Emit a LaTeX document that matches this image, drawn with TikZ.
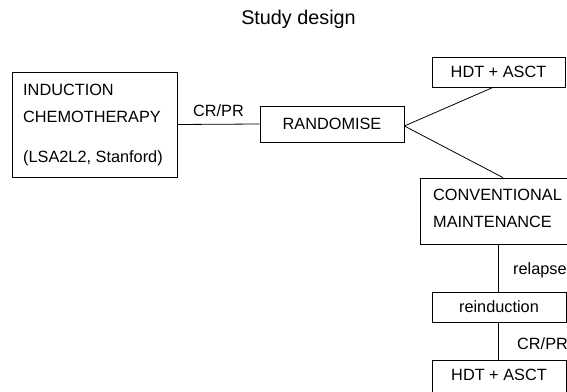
\documentclass[tikz,border=0pt]{standalone}
\usepackage{fontspec}
\setmainfont{Liberation Sans}
\usetikzlibrary{calc}
\begin{document}
\begin{tikzpicture}[x=1pt,y=1pt,
  box/.style={draw, line width=0.8pt, inner sep=0pt, minimum width=#1},
  txt/.style={font=\fontsize{16.3}{18}\selectfont, inner sep=0pt},
  conn/.style={line width=0.8pt}]
\useasboundingbox (0,0) rectangle (567,391);
\clip (0,0) rectangle (567,391);
\fill[white] (0,0) rectangle (567,391);
% title
\node[font=\fontsize{19.8}{22}\selectfont, inner sep=0pt] (title) at (298.5,372) {Study design};
% induction box
\node[box=165pt, minimum height=105pt] (ind) at (94.5,266.5) {};
\node[txt, anchor=base west] (ind1) at (23,295) {INDUCTION};
\node[txt, anchor=base west] (ind2) at (23,268.5) {CHEMOTHERAPY};
\node[txt, anchor=base west] (ind3) at (23,228.5) {(LSA2L2, Stanford)};
% randomise
\node[box=144pt, minimum height=36pt, txt] (rand) at (332,267) {RANDOMISE};
% HDT top
\node[box=133pt, minimum height=30pt, txt] (hdta) at (498.5,319) {HDT + ASCT};
% conventional
\node[box=156pt, minimum height=66pt] (conv) at (498,180) {};
\node[txt, anchor=base west] (conv1) at (433,190) {CONVENTIONAL};
\node[txt, anchor=base west] (conv2) at (433,163) {MAINTENANCE};
% reinduction
\node[box=134pt, minimum height=30pt, txt] (reind) at (499,84) {reinduction};
% HDT bottom
\node[box=134pt, minimum height=34pt, txt] (hdtb) at (499,14) {};
\node[txt] (hdtbt) at (499,16) {HDT + ASCT};
% connectors
\draw[conn] (ind.east) -- (rand.west) node[midway, above=7pt, txt] (crpr1) {CR/PR};
\draw[conn] ($(rand.east)+(0,-2)$) -- ($(hdta.south)+(-5.5,0)$);
\draw[conn] ($(rand.east)+(0,-2)$) -- ($(conv.north)+(5,0)$);
\draw[conn] (conv.south) -- (conv.south |- reind.north);
\node[txt, anchor=base west] (relapse) at (513,117) {relapse};
\draw[conn] (conv.south |- reind.south) -- (conv.south |- hdtb.north);
\node[txt, anchor=base west] (crpr2) at (517,42) {CR/PR};
\end{tikzpicture}
\end{document}
